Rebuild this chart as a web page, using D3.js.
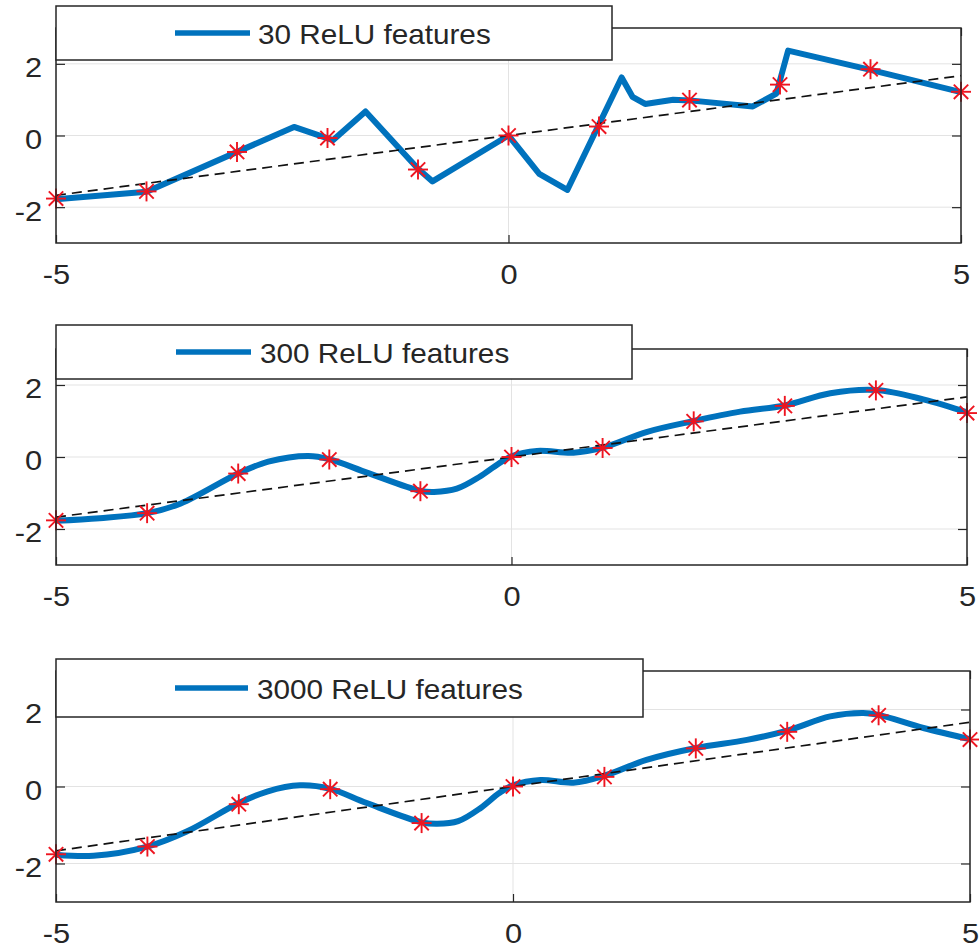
<!DOCTYPE html>
<html>
<head>
<meta charset="utf-8">
<script src="https://cdn.jsdelivr.net/npm/d3@7"></script>
<style>
  html, body { margin: 0; padding: 0; background: #fff; }
  svg { display: block; }
  text { font-family: "Liberation Sans", Arial, Helvetica, sans-serif; fill: #262626; }
</style>
</head>
<body>
<svg id="chart" width="979" height="948"></svg>
<script>
// ---- data ----------------------------------------------------------------
const xTicks = [-5, 0, 5];
const yTicks = [-2, 0, 2];
const xDomain = [-5, 5];
const yDomain = [-3, 3];

// training samples (red asterisks)
const sampleX = [-5, -4, -3, -2, -1, 0, 1, 2, 3, 4, 5];
const sampleY = [-1.76, -1.56, -0.46, -0.07, -0.95, 0, 0.25, 0.99, 1.42, 1.85, 1.22];

// reference line (black dashed)
const trendX = [-5, 5];
const trendY = [-1.67, 1.67];

// fitted curve, 30 ReLU features (piecewise linear)
const fit30X = [-5, -4, -2.37, -1.94, -1.58, -1.0, -0.84, 0, 0.34, 0.65, 1.25, 1.37, 1.51, 1.82, 2.0, 2.7, 2.96, 3.09, 4, 5];
const fit30Y = [-1.78, -1.57, 0.24, -0.13, 0.67, -0.93, -1.28, 0, -1.07, -1.52, 1.62, 1.08, 0.88, 1.0, 0.98, 0.81, 1.17, 2.37, 1.83, 1.21];

// fitted curve, 300 ReLU features
const fit300X = [-5, -4.52, -4, -3.63, -3, -2.67, -2.23, -2, -1.57, -1, -0.85, -0.6, -0.35, -0.15, 0, 0.28, 0.68, 1, 1.49, 2, 2.51, 3, 3.5, 4, 4.52, 5];
const fit300Y = [-1.77, -1.70, -1.56, -1.29, -0.46, -0.13, 0.03, -0.06, -0.45, -0.94, -0.97, -0.88, -0.55, -0.2, 0.02, 0.17, 0.12, 0.26, 0.70, 1.0, 1.26, 1.43, 1.77, 1.86, 1.60, 1.24];

// fitted curve, 3000 ReLU features
const fit3000X = [-5, -4.59, -4, -3.57, -3, -2.69, -2.33, -2, -1.6, -1, -0.83, -0.6, -0.35, -0.15, 0, 0.3, 0.66, 1, 1.46, 2, 2.56, 3, 3.47, 3.83, 4, 4.49, 5];
const fit3000Y = [-1.77, -1.80, -1.56, -1.17, -0.43, -0.13, 0.03, -0.06, -0.43, -0.93, -0.97, -0.9, -0.55, -0.17, 0.03, 0.17, 0.10, 0.28, 0.69, 1.0, 1.21, 1.45, 1.82, 1.91, 1.86, 1.52, 1.23];

const legendLabels = ["30 ReLU features", "300 ReLU features", "3000 ReLU features"];

// ---- layout --------------------------------------------------------------
const panels = [
  { xs: fit30X,   ys: fit30Y,   label: legendLabels[0], smooth: false,
    left: 56, right: 961, top: 28,  bottom: 243,
    leg: { x0: 56, x1: 612, y0: 6,   y1: 60,  l0: 175, l1: 250, tx: 258 } },
  { xs: fit300X,  ys: fit300Y,  label: legendLabels[1], smooth: true,
    left: 56, right: 967, top: 349, bottom: 565,
    leg: { x0: 56, x1: 632, y0: 325, y1: 379, l0: 176, l1: 251, tx: 260 } },
  { xs: fit3000X, ys: fit3000Y, label: legendLabels[2], smooth: true,
    left: 56, right: 970, top: 671, bottom: 902,
    leg: { x0: 56, x1: 643, y0: 659, y1: 717, l0: 175, l1: 248, tx: 257 } }
];

const BLUE = "#0072BD";
const RED = "#ee1520";
const AXIS = "#262626";
const GRID = "#e3e3e3";
const tickFont = 28;
const legendFont = 27;
const textStretch = 1.1;   // glyphs are slightly wider than the plain font

const svg = d3.select("#chart");
const fmt = d => String(d);  // plain hyphen-minus, e.g. "-5"

// widen a text element horizontally around its own x anchor
function stretch(sel) {
  sel.attr("transform", function () {
    const xx = +this.getAttribute("x") || 0;
    return `translate(${xx * (1 - textStretch)},0) scale(${textStretch},1)`;
  });
}

panels.forEach((p, i) => {
  const x = d3.scaleLinear().domain(xDomain).range([p.left, p.right]);
  const y = d3.scaleLinear().domain(yDomain).range([p.bottom, p.top]);
  const g = svg.append("g").attr("class", "panel-" + i);

  // grid
  g.append("g").selectAll("line").data(yTicks).join("line")
    .attr("x1", p.left).attr("x2", p.right)
    .attr("y1", d => y(d)).attr("y2", d => y(d))
    .attr("stroke", GRID).attr("stroke-width", 1);
  g.append("g").selectAll("line").data(xTicks).join("line")
    .attr("y1", p.top).attr("y2", p.bottom)
    .attr("x1", d => x(d)).attr("x2", d => x(d))
    .attr("stroke", GRID).attr("stroke-width", 1);

  // fitted curve
  const pts = p.xs.map((v, k) => [v, p.ys[k]]);
  const line = d3.line().x(d => x(d[0])).y(d => y(d[1]))
    .curve(p.smooth ? d3.curveCatmullRom.alpha(0.5) : d3.curveLinear);
  g.append("path").datum(pts)
    .attr("d", line)
    .attr("fill", "none").attr("stroke", BLUE).attr("stroke-width", 6)
    .attr("stroke-linejoin", "round").attr("stroke-linecap", "butt");

  // dashed reference line
  const trend = trendX.map((v, k) => [v, trendY[k]]);
  g.append("path").datum(trend)
    .attr("d", d3.line().x(d => x(d[0])).y(d => y(d[1])))
    .attr("fill", "none").attr("stroke", "#111").attr("stroke-width", 1.7)
    .attr("stroke-dasharray", "10,6");

  // asterisk markers
  const star = g.append("g").selectAll("g").data(sampleX.map((v, k) => [v, sampleY[k]])).join("g")
    .attr("transform", d => `translate(${x(d[0])},${y(d[1])})`);
  const r = 10, rd = 7.2;
  [[-r, 0, r, 0], [0, -r, 0, r], [-rd, -rd, rd, rd], [-rd, rd, rd, -rd]].forEach(s => {
    star.append("line")
      .attr("x1", s[0]).attr("y1", s[1]).attr("x2", s[2]).attr("y2", s[3])
      .attr("stroke", RED).attr("stroke-width", 1.9);
  });

  // axes box
  g.append("rect")
    .attr("x", p.left).attr("y", p.top)
    .attr("width", p.right - p.left).attr("height", p.bottom - p.top)
    .attr("fill", "none").attr("stroke", AXIS).attr("stroke-width", 1.5);

  // ticks and tick labels
  const ax = g.append("g").attr("transform", `translate(${p.left},0)`)
    .call(d3.axisLeft(y).tickValues(yTicks).tickSize(-9).tickPadding(14).tickFormat(fmt));
  const axR = g.append("g").attr("transform", `translate(${p.right},0)`)
    .call(d3.axisRight(y).tickValues(yTicks).tickSize(-9).tickFormat(""));
  const axB = g.append("g").attr("transform", `translate(0,${p.bottom})`)
    .call(d3.axisBottom(x).tickValues(xTicks).tickSize(-8).tickPadding(21).tickFormat(fmt));
  const axT = g.append("g").attr("transform", `translate(0,${p.top})`)
    .call(d3.axisTop(x).tickValues(xTicks).tickSize(-8).tickFormat(""));
  [ax, axR, axB, axT].forEach(a => {
    a.select(".domain").remove();
    a.selectAll(".tick line").attr("stroke", AXIS).attr("stroke-width", 1.2);
    a.selectAll("text").attr("font-size", tickFont).attr("fill", AXIS)
      .style("font-family", "'Liberation Sans', Arial, sans-serif");
  });
  ax.selectAll("text").attr("dy", "0.46em").call(stretch);
  axB.selectAll("text").call(stretch);

  // legend
  const L = p.leg;
  const lg = g.append("g");
  lg.append("rect")
    .attr("x", L.x0).attr("y", L.y0)
    .attr("width", L.x1 - L.x0).attr("height", L.y1 - L.y0)
    .attr("fill", "#fff").attr("stroke", AXIS).attr("stroke-width", 1.5);
  const ly = (L.y0 + L.y1) / 2;
  lg.append("line")
    .attr("x1", L.l0).attr("x2", L.l1).attr("y1", ly).attr("y2", ly)
    .attr("stroke", BLUE).attr("stroke-width", 5.5);
  lg.append("text")
    .attr("x", L.tx).attr("y", ly + 1)
    .attr("dy", "0.36em")
    .attr("font-size", legendFont)
    .text(p.label)
    .call(stretch);
});
</script>
</body>
</html>
